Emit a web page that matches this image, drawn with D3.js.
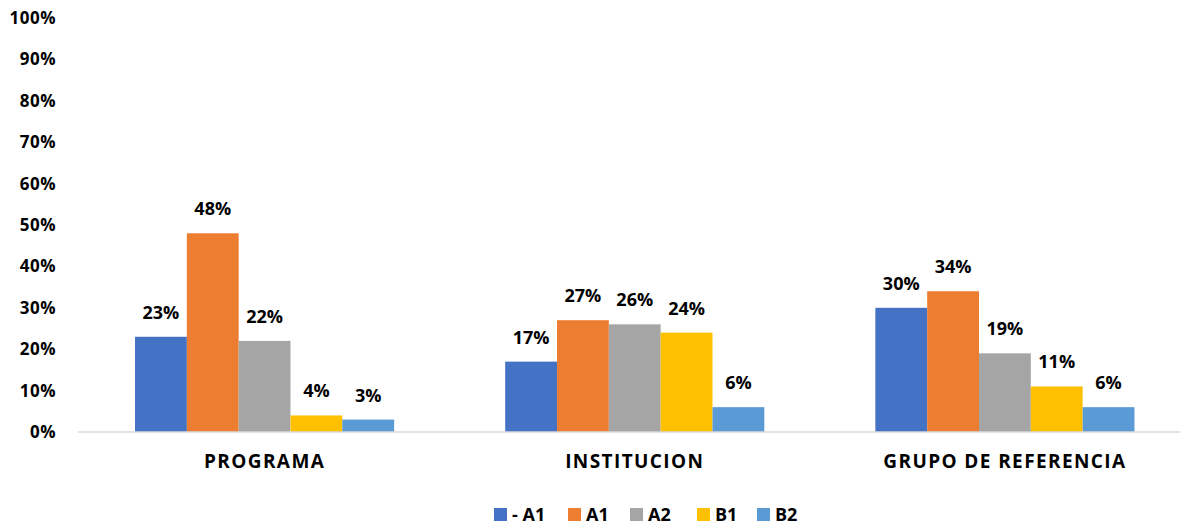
<!DOCTYPE html>
<html><head><meta charset="utf-8">
<script src="https://cdn.jsdelivr.net/npm/d3@7"></script>
<style>body{margin:0;background:#fff;} svg{display:block;font-family:"Open Sans", sans-serif;font-weight:bold;}</style>
</head><body>
<svg id="c" width="1182" height="525"></svg>
<script>
const categories = ["PROGRAMA", "INSTITUCION", "GRUPO DE REFERENCIA"];
const seriesNames = ["- A1", "A1", "A2", "B1", "B2"];
const seriesColors = ["#4472C4", "#ED7D31", "#A5A5A5", "#FFC000", "#5B9BD5"];
const valuesMinusA1 = [23, 17, 30];
const valuesA1 = [48, 27, 34];
const valuesA2 = [22, 26, 19];
const valuesB1 = [4, 24, 11];
const valuesB2 = [3, 6, 6];
const yTicks = [0, 10, 20, 30, 40, 50, 60, 70, 80, 90, 100];

const series = [valuesMinusA1, valuesA1, valuesA2, valuesB1, valuesB2];
const svg = d3.select("#c");
const W = 1182, H = 525;
const y0px = 432, y100px = 18;
const x0 = d3.scaleBand().domain(categories).range([79.5, 1190]).paddingInner(0.3).paddingOuter(0.15);
const x1 = d3.scaleBand().domain(d3.range(series.length)).range([0, x0.bandwidth()]);
const y = d3.scaleLinear().domain([0, 100]).range([y0px, y100px]);
const FF = "'Open Sans', sans-serif";

// y axis labels
const yAxis = d3.axisLeft(y).tickValues(yTicks).tickFormat(d => d + "%").tickSize(0).tickPadding(22);
const ga = svg.append("g").attr("transform", `translate(78,0)`).call(yAxis);
ga.select(".domain").remove();
ga.selectAll("text").attr("font-size", 17).attr("font-weight", "bold").attr("fill", "#000").attr("font-family", FF).attr("letter-spacing", 0.5);

// bars
const g = svg.append("g");
categories.forEach((c, ci) => {
  series.forEach((s, si) => {
    const v = s[ci];
    g.append("rect")
      .attr("x", x0(c) + x1(si))
      .attr("y", y(v))
      .attr("width", x1.bandwidth())
      .attr("height", y(0) - y(v))
      .attr("fill", seriesColors[si]);
    g.append("text")
      .attr("x", x0(c) + x1(si) + x1.bandwidth() / 2)
      .attr("y", y(v) - 18)
      .attr("text-anchor", "middle")
      .attr("font-size", 18)
      .attr("fill", "#000")
      .text(v + "%");
  });
});

// x axis line
svg.append("line").attr("x1", 78).attr("x2", 1180).attr("y1", y(0)).attr("y2", y(0))
  .attr("stroke", "#D9D9D9").attr("stroke-width", 1.5);

// category labels
const xAxis = d3.axisBottom(x0).tickSize(0).tickPadding(23);
const gx = svg.append("g").attr("transform", `translate(0,${y(0)})`).call(xAxis);
gx.select(".domain").remove();
gx.selectAll("text").attr("font-size", 19).attr("font-weight", "bold").attr("fill", "#000").attr("font-family", FF).attr("letter-spacing", 1.4);

// legend
const legendX = [494, 568, 630, 697, 757];
const lg = svg.append("g");
seriesNames.forEach((n, i) => {
  lg.append("rect").attr("x", legendX[i]).attr("y", 508).attr("width", 13).attr("height", 13).attr("fill", seriesColors[i]);
  lg.append("text").attr("x", legendX[i] + 18).attr("y", 521).attr("font-size", 18).attr("fill", "#000").text(n);
});
</script>
</body></html>
